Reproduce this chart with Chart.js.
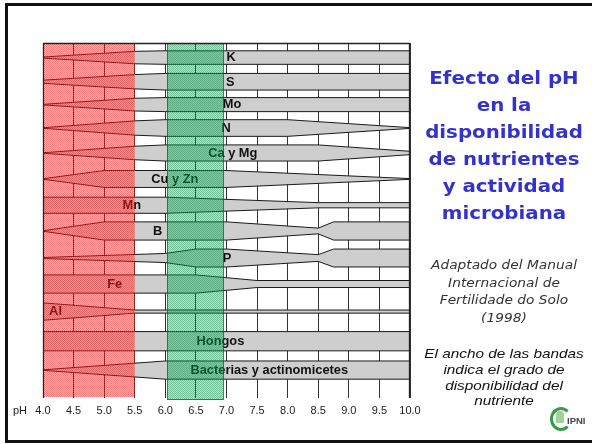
<!DOCTYPE html>
<html>
<head>
<meta charset="utf-8">
<script src="https://cdn.jsdelivr.net/npm/chart.js@4/dist/chart.umd.min.js"></script>
<style>
  body { margin: 0; background: #fff; }
  #lamina { position: relative; width: 592px; height: 444px; overflow: hidden; font-family: "Liberation Sans", Arial, sans-serif; }
  #marco { position: absolute; left: 5px; top: 3px; width: 620px; height: 434px; border: 3px solid #111; }
  #grafico { position: absolute; left: 0; top: 0; width: 592px; height: 444px; }
  .ph { position: absolute; left: 13px; top: 404px; font-size: 11px; color: #222; }
  .titulo { position: absolute; left: 418px; top: 64px; width: 172px; text-align: center; font-family: "DejaVu Sans", Verdana, sans-serif; font-weight: bold; font-size: 18px; line-height: 27px; color: #3333cc; transform: scaleX(1.1); }
  .fuente { position: absolute; left: 418px; top: 256px; width: 172px; text-align: center; font-family: "DejaVu Sans", Verdana, sans-serif; font-style: italic; font-size: 12.5px; line-height: 17.6px; color: #333; transform: scaleX(1.1); }
  .nota { position: absolute; left: 418px; top: 346px; width: 172px; text-align: center; font-style: italic; font-size: 13px; line-height: 15.8px; color: #111; transform: scaleX(1.18); }
  .logo { position: absolute; left: 550px; top: 407px; width: 16px; height: 18px; border: 3px solid #3a9a4a; border-right-color: transparent; border-radius: 50%; }
  .logo2 { position: absolute; left: 556px; top: 411px; width: 8px; height: 12px; background: #9fd29a; border-radius: 40% 40% 10% 10%; }
  .ipni { position: absolute; left: 567px; top: 415px; font-size: 9.5px; font-weight: bold; color: #444; }
</style>
</head>
<body>
<div id="lamina">
  <div id="marco"></div>
  <div id="grafico"><canvas id="bandas"></canvas></div>
  <div class="ph">pH</div>
  <div class="titulo">Efecto del pH<br>en la<br>disponibilidad<br>de nutrientes<br>y actividad<br>microbiana</div>
  <div class="fuente">Adaptado del Manual<br>Internacional de<br>Fertilidade do Solo<br>(1998)</div>
  <div class="nota">El ancho de las bandas<br>indica el grado de<br>disponibilidad del<br>nutriente</div>
  <div class="logo"></div>
  <div class="logo2"></div>
  <div class="ipni">IPNI</div>
</div>
<script>
const nutrientes = ['K', 'S', 'Mo', 'N', 'Ca y Mg', 'Cu y Zn', 'Mn', 'B', 'P', 'Fe', 'Al', 'Hongos', 'Bacterias y actinomicetes'];
// centro de cada banda, en filas contadas desde arriba
const filas = [0.56, 1.49, 2.37, 3.27, 4.23, 5.23, 6.24, 7.23, 8.27, 9.27, 10.33, 11.47, 12.58];
const phTicks = [4.0, 4.5, 5.0, 5.5, 6.0, 6.5, 7.0, 7.5, 8.0, 8.5, 9.0, 9.5, 10.0];

// ancho de cada banda: [pH, ancho en filas]
const K = [[4.0, 0.04], [5.5, 0.48], [6.0, 0.52], [10.0, 0.52]];
const S = [[4.0, 0.12], [5.5, 0.55], [6.0, 0.64], [10.0, 0.64]];
const Mo = [[4.0, 0.02], [5.5, 0.49], [6.0, 0.54], [10.0, 0.54]];
const N = [[4.0, 0.02], [5.5, 0.55], [6.0, 0.64], [8.0, 0.64], [10.0, 0.03]];
const CaMg = [[4.0, 0.02], [5.5, 0.52], [6.0, 0.62], [8.5, 0.62], [10.0, 0.13]];
const CuZn = [[4.0, 0.02], [5.0, 0.65], [7.0, 0.65], [10.0, 0.03]];
const Mn = [[4.0, 0.62], [6.0, 0.62], [8.5, 0.2], [10.0, 0.2]];
const B = [[4.0, 0.02], [5.0, 0.7], [7.0, 0.7], [8.5, 0.22], [8.75, 0.7], [10.0, 0.7]];
const P = [[4.0, 0.04], [6.0, 0.35], [6.5, 0.69], [7.0, 0.69], [8.5, 0.26], [8.75, 0.69], [10.0, 0.69]];
const Fe = [[4.0, 0.7], [6.5, 0.7], [7.5, 0.27], [10.0, 0.27]];
const Al = [[4.0, 0.67], [5.5, 0.12], [10.0, 0.12]];
const Hongos = [[4.0, 0.74], [10.0, 0.74]];
const Bacterias = [[4.0, 0.02], [6.0, 0.7], [10.0, 0.7]];
const perfiles = [K, S, Mo, N, CaMg, CuZn, Mn, B, P, Fe, Al, Hongos, Bacterias];

// zonas sombreadas (pH)
const zonaAcida = [4.0, 5.5];
const zonaOptima = [6.03, 6.95];

// donde empieza cada etiqueta (pH)
const posEtiqueta = [7.0, 6.99, 6.94, 6.92, 6.7, 5.77, 5.3, 5.8, 6.94, 5.05, 4.1, 6.51, 6.41];

// poligono cerrado: borde de arriba y vuelta por abajo
const poligono = (perfil, c) => {
    const arriba = perfil.map(([ph, w]) => ({x: ph, y: c - w / 2}));
    const abajo = perfil.slice().reverse().map(([ph, w]) => ({x: ph, y: c + w / 2}));
    return [...arriba, ...abajo, arriba[0]];
};

const trama = (c1, c2) => {
    const p = document.createElement('canvas');
    p.width = 2; p.height = 2;
    const g = p.getContext('2d');
    g.fillStyle = c1; g.fillRect(0, 0, 1, 1); g.fillRect(1, 1, 1, 1);
    g.fillStyle = c2; g.fillRect(1, 0, 1, 1); g.fillRect(0, 1, 1, 1);
    return p;
};

const capas = {
    id: 'capas',
    afterDatasetsDraw(chart) {
        const {ctx, chartArea: a, scales: {x, y}} = chart;

        // nombres de las bandas
        ctx.save();
        ctx.fillStyle = '#111';
        ctx.font = 'bold 12px "Liberation Sans", Arial, sans-serif';
        ctx.textBaseline = 'middle';
        nutrientes.forEach((n, i) => {
            ctx.save();
            ctx.translate(x.getPixelForValue(posEtiqueta[i]), y.getPixelForValue(filas[i]) + 0.5);
            ctx.scale(1.07, 1);
            ctx.fillText(n, 0, 0);
            ctx.restore();
        });

        // zona roja y zona verde
        const rojo = ctx.createPattern(trama('rgba(235,40,40,0.62)', 'rgba(235,40,40,0.32)'), 'repeat');
        const verde = ctx.createPattern(trama('rgba(20,150,80,0.6)', 'rgba(20,150,80,0.3)'), 'repeat');
        let x1 = x.getPixelForValue(zonaAcida[0]);
        let x2 = x.getPixelForValue(zonaAcida[1]);
        ctx.fillStyle = rojo;
        ctx.fillRect(x1, a.top, x2 - x1, a.bottom - a.top - 1);
        x1 = x.getPixelForValue(zonaOptima[0]);
        x2 = x.getPixelForValue(zonaOptima[1]);
        ctx.fillStyle = verde;
        ctx.fillRect(x1, a.top, x2 - x1, a.bottom - a.top + 2);
        ctx.strokeStyle = 'rgba(0,90,40,0.7)';
        ctx.lineWidth = 1;
        ctx.strokeRect(Math.round(x1) + 0.5, a.top + 0.5, Math.round(x2 - x1), a.bottom - a.top + 1);

        // marco del grafico
        ctx.strokeStyle = '#222';
        ctx.lineWidth = 1.3;
        ctx.beginPath();
        ctx.moveTo(a.left, a.top + 0.5);
        ctx.lineTo(a.right, a.top + 0.5);
        ctx.moveTo(a.left + 0.5, a.top);
        ctx.lineTo(a.left + 0.5, a.bottom);
        ctx.moveTo(a.right - 0.5, a.top);
        ctx.lineTo(a.right - 0.5, a.bottom);
        ctx.stroke();
        ctx.restore();
    }
};

Chart.defaults.font.family = '"Liberation Sans", Arial, sans-serif';

new Chart(document.getElementById('bandas'), {
    type: 'line',
    data: {
        datasets: perfiles.map((p, i) => ({
            label: nutrientes[i],
            data: poligono(p, filas[i]),
            borderColor: '#1a1a1a',
            borderWidth: 1,
            backgroundColor: '#cecece',
            fill: 'shape',
            pointRadius: 0,
            tension: 0
        }))
    },
    options: {
        responsive: true,
        maintainAspectRatio: false,
        animation: false,
        events: [],
        layout: {padding: {left: 43, top: 43, right: 182, bottom: 0}},
        plugins: {legend: {display: false}, tooltip: {enabled: false}},
        scales: {
            x: {
                type: 'linear',
                min: 4,
                max: 10,
                afterBuildTicks: (s) => { s.ticks = phTicks.map(v => ({value: v})); },
                afterFit: (s) => { s.height = 46; },
                ticks: {
                    autoSkip: false,
                    maxRotation: 0,
                    padding: 6,
                    color: '#222',
                    font: {size: 11},
                    callback: (v) => v.toFixed(1)
                },
                grid: {color: '#333', lineWidth: 1, drawTicks: false},
                border: {display: false}
            },
            y: {
                type: 'linear',
                min: 0,
                max: 13.654,
                reverse: true,
                display: false
            }
        }
    },
    plugins: [capas]
});
</script>
</body>
</html>
